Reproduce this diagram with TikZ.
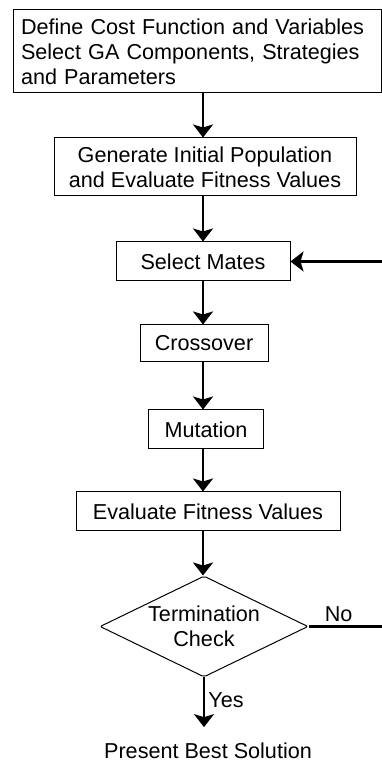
\documentclass[tikz,border=0pt]{standalone}
\usepackage{fontspec}
\setmainfont{Liberation Sans}
\usetikzlibrary{arrows.meta,shapes.geometric,calc}
\tikzstyle{box}=[draw,line width=1pt,align=center,inner sep=0pt]
\tikzstyle{flow}=[line width=2.2pt,-{Stealth[length=13pt,width=20pt,inset=3pt]}]

\begin{document}
\begin{tikzpicture}[x=1pt,y=1pt,font=\fontsize{21.6pt}{25pt}\selectfont]
\useasboundingbox (0,0) rectangle (382,762);
\clip (0,0) rectangle (382,762);
\node[box,minimum width=368pt,minimum height=83pt,text width=352pt,align=left](def) at (197,710.5){Define Cost Function and Variables\\Select GA Components, Strategies\\and Parameters};
\node[box,minimum width=302pt,minimum height=58pt](gen) at (205,595){Generate Initial Population\\and Evaluate Fitness Values};
\node[box,minimum width=174pt,minimum height=39pt](sel) at (203,500.5){Select Mates};
\node[box,minimum width=128pt,minimum height=37pt](cross) at (204,418.5){Crossover};
\node[box,minimum width=115pt,minimum height=39pt](mut) at (206,332.5){Mutation};
\node[box,minimum width=264pt,minimum height=39pt](eval) at (208,250.5){Evaluate Fitness Values};
\node[box,diamond,aspect=2,minimum width=208pt,minimum height=101pt,rounded corners=2pt](chk) at (204,135.5){Termination\\Check};
\node[anchor=base,inner sep=1pt](res) at (208,4){Present Best Solution};
\coordinate (loop) at (400,0);
\draw[flow] (sel.north |- def.south) -- (sel.north |- gen.north);
\draw[flow] (sel.north |- gen.south) -- (sel.north);
\draw[flow] (sel) -- (sel.south |- cross.north);
\draw[flow] (sel.south |- cross.south) -- (sel.south |- mut.north);
\draw[flow] (sel.south |- mut.south) -- (sel.south |- eval.north);
\draw[flow] (sel.south |- eval.south) -- (sel.south |- chk.north);
\draw[flow,shorten >=14pt] (chk.south) -- node[right,pos=0.35]{Yes} (chk.south |- res.north);
\draw[flow] (chk.east) -- node[above,pos=0.33]{No} (chk.east -| loop) |- (sel.east);
\end{tikzpicture}
\end{document}
